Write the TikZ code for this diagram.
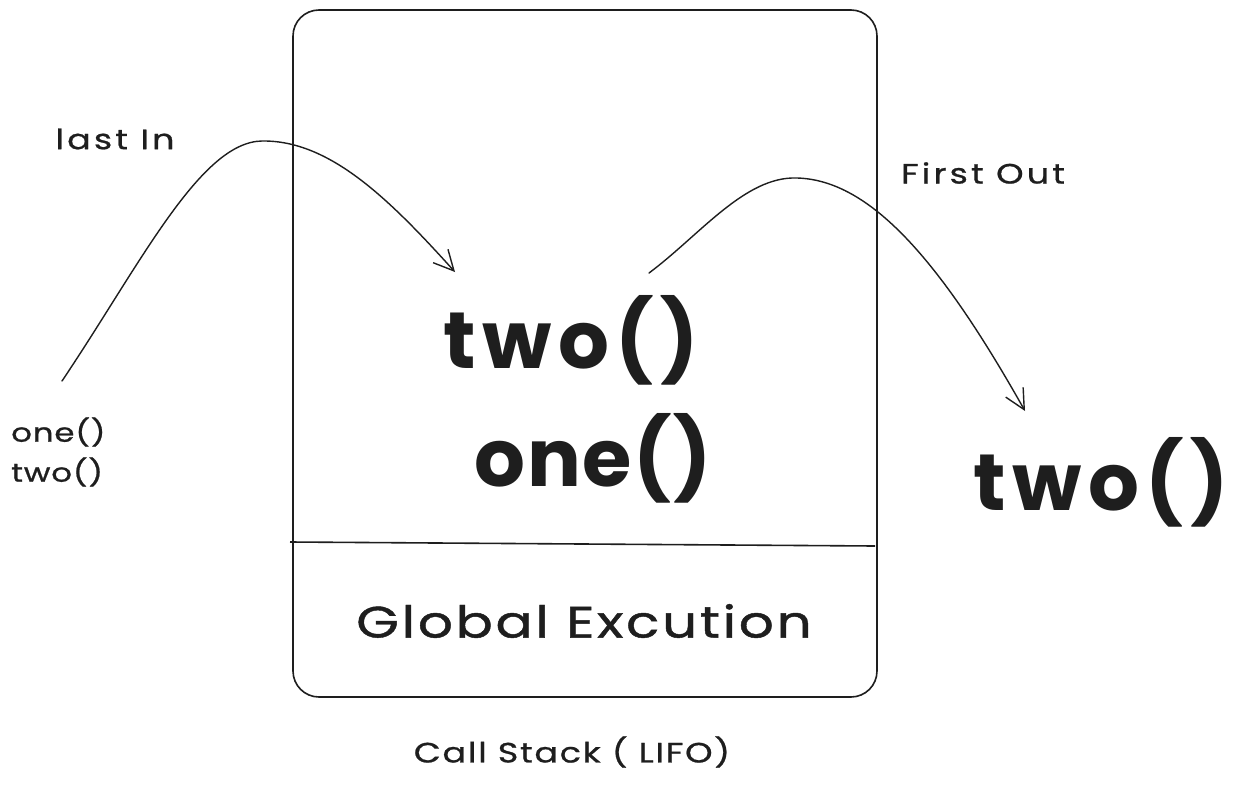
\documentclass[tikz,border=0pt]{standalone}
\usepackage{fontspec}
\setmainfont{Poppins}
\usetikzlibrary{arrows.meta}
\definecolor{ink}{HTML}{1E1E1E}
\newcommand\handfont[2]{\addfontfeatures{FakeStretch=1.25,LetterSpace=#2,FakeBold=#1}}
\tikzset{
  ink/.style={draw=ink, line width=1.6pt},
  conn/.style={draw=ink, line width=1.4pt, line cap=round, -{Straight Barb[length=20pt,width=20pt,line width=1.4pt]}},
  lbl/.style={text=ink, inner sep=0pt, anchor=center},
  big/.style={lbl, font=\fontsize{80}{90}\selectfont\bfseries\addfontfeatures{LetterSpace=8}},
  small/.style={lbl, font=\fontsize{28}{32}\selectfont\handfont{0.8}{11}},
}
\begin{document}
\begin{tikzpicture}[x=1pt,y=-1pt]
\useasboundingbox (0,0) rectangle (1234,787);
\fill[white] (0,0) rectangle (1234,787);
% stack box
\draw[ink, rounded corners=26pt] (293,10) rectangle (877,697);
\draw[ink] (290,542) -- (875,546);
% texts
\node[lbl, font=\fontsize{44}{50}\selectfont\handfont{1}{6}] (global) at (584,621) {Global Excution};
\node[big] (twoin) at (571,340) {two()};
\node[big, font=\fontsize{80}{90}\selectfont\bfseries\addfontfeatures{LetterSpace=2}] (onein) at (593,458) {one()};
\node[big] (twoout) at (1101,482) {two()};
\node[small] (lastin) at (115,139) {last In};
\node[small] (firstout) at (983,173) {First Out};
\node[lbl, font=\fontsize{26}{40}\selectfont\handfont{0.8}{3}, align=left, anchor=west] (queue) at (11,452) {one()\\two()};
\node[lbl, font=\fontsize{28}{32}\selectfont\handfont{0.8}{6}] (caption) at (572,752) {Call Stack ( LIFO)};
% connectors
\coordinate (a1s) at (62,381);
\coordinate (a1p) at (262,141);
\coordinate (a1e) at (455,272);
\coordinate (a2s) at (649,273);
\coordinate (a2p) at (797,178);
\coordinate (a2e) at (1025,411);
\draw[conn] (a1s) .. controls (140,265) and (200,142) .. (a1p) .. controls (330,140) and (390,200) .. (a1e);
\draw[conn] (a2s) .. controls (700,235) and (745,176) .. (a2p) .. controls (870,180) and (940,260) .. (a2e);
\end{tikzpicture}
\end{document}
